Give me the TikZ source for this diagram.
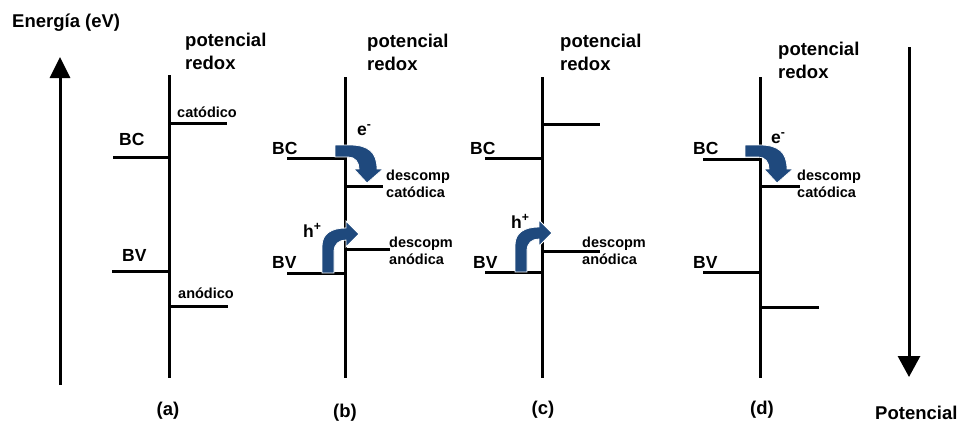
\documentclass[tikz,border=0pt]{standalone}
\usepackage{fontspec}
\setmainfont{Liberation Sans}
\usetikzlibrary{arrows.meta}
\definecolor{arrowblue}{HTML}{1F497D}
\begin{document}
\begin{tikzpicture}[x=1pt,y=-1pt,
  lvl/.style={line width=3pt},
  axis/.style={line width=3pt},
  big/.style={font=\bfseries\fontsize{18.5}{23}\selectfont, inner sep=0pt, align=left},
  band/.style={font=\bfseries\fontsize{17.5}{21}\selectfont, inner sep=0pt},
  small/.style={font=\bfseries\fontsize{14.5}{17}\selectfont, inner sep=0pt, align=left},
  carrier/.style={fill=arrowblue, draw=white, line width=0.8pt}]
\useasboundingbox (0,0) rectangle (963,423);

% axes
\coordinate (eB0) at (60,385); \coordinate (eT0) at (60,57);
\draw[axis, -{Triangle[width=20pt,length=21pt]}] (eB0) -- (eT0);
\coordinate (pT0) at (909,47); \coordinate (pB0) at (909,377);
\draw[axis, -{Triangle[width=22pt,length=21pt]}] (pT0) -- (pB0);
\node[big, anchor=west] (energy) at (12,23) {Energía (eV)};
\node[big, anchor=west] (potlabel) at (875,413) {Potencial};

% ---------- panel (a)
\draw[lvl] (169,75) -- (169,378);
\draw[lvl] (113,157) -- (169,157);
\draw[lvl] (112,271) -- (169,271);
\draw[lvl] (169,123) -- (227,123);
\draw[lvl] (169,306) -- (228,306);
\node[big, anchor=north west] (redoxA) at (185,33) {potencial\\redox};
\node[band, anchor=west] (bcA) at (119,139) {BC};
\node[band, anchor=west] (bvA) at (122,255) {BV};
\node[small, anchor=west] (catA) at (177,112) {catódico};
\node[small, anchor=west] (anoA) at (178,293) {anódico};
\node[big] (la) at (168,411) {(a)};

% ---------- panel (b)
\draw[lvl] (345,77) -- (345,378);
\draw[lvl] (287,158) -- (345,158);
\draw[lvl] (345,186) -- (383,186);
\draw[lvl] (287,273) -- (345,273);
\draw[lvl] (345,249) -- (390,249);
\node[big, anchor=north west] (redoxB) at (367,34) {potencial\\redox};
\node[band, anchor=west] (bcB) at (272,148) {BC};
\node[band, anchor=west] (bvB) at (272,262) {BV};
\node[small, anchor=west] (catB) at (386,184) {descomp\\catódica};
\node[small, anchor=west] (anoB) at (389,251) {descopm\\anódica};
\path[carrier] (335,145) -- (350,145) .. controls (368,145) and (377,152) .. (377,169) -- (383,169) -- (367,183) -- (354,169) -- (359,169) .. controls (359,162) and (355,157) .. (348,157) -- (335,157) -- cycle;
\path[carrier] (322,273) -- (322,246) .. controls (322,234) and (331,228) .. (346,228) -- (346,221) -- (359,234) -- (346,247) -- (346,240) .. controls (339,240) and (334,244) .. (334,252) -- (334,273) -- cycle;
\node[band, anchor=base west] (eB) at (357,135) {e\textsuperscript{-}};
\node[band, anchor=base west] (hB) at (303,237) {h\textsuperscript{+}};
\node[big] (lb) at (345,413) {(b)};

% ---------- panel (c)
\draw[lvl] (542,77) -- (542,378);
\draw[lvl] (542,124) -- (600,124);
\draw[lvl] (485,158) -- (542,158);
\draw[lvl] (485,272) -- (542,272);
\draw[lvl] (542,251) -- (600,251);
\node[big, anchor=north west] (redoxC) at (560,34) {potencial\\redox};
\node[band, anchor=west] (bcC) at (470,148) {BC};
\node[band, anchor=west] (bvC) at (473,262) {BV};
\node[small, anchor=west] (anoC) at (582,251) {descopm\\anódica};
\begin{scope}[shift={(193,-1)}]
\path[carrier] (322,273) -- (322,246) .. controls (322,234) and (331,228) .. (346,228) -- (346,221) -- (359,234) -- (346,247) -- (346,240) .. controls (339,240) and (334,244) .. (334,252) -- (334,273) -- cycle;
\end{scope}
\node[band, anchor=base west] (hC) at (511,228) {h\textsuperscript{+}};
\node[big] (lc) at (543,410) {(c)};

% ---------- panel (d)
\draw[lvl] (760,77) -- (760,378);
\draw[lvl] (703,159) -- (760,159);
\draw[lvl] (760,186) -- (800,186);
\draw[lvl] (703,272) -- (760,272);
\draw[lvl] (760,307) -- (819,307);
\node[big, anchor=north west] (redoxD) at (778,42) {potencial\\redox};
\node[band, anchor=west] (bcD) at (693,148) {BC};
\node[band, anchor=west] (bvD) at (693,262) {BV};
\node[small, anchor=west] (catD) at (797,184) {descomp\\catódica};
\begin{scope}[shift={(410,0)}]
\path[carrier] (335,145) -- (350,145) .. controls (368,145) and (377,152) .. (377,169) -- (383,169) -- (367,183) -- (354,169) -- (359,169) .. controls (359,162) and (355,157) .. (348,157) -- (335,157) -- cycle;
\end{scope}
\node[band, anchor=base west] (eD) at (771,143) {e\textsuperscript{-}};
\node[big] (ld) at (762,410) {(d)};
\end{tikzpicture}
\end{document}
